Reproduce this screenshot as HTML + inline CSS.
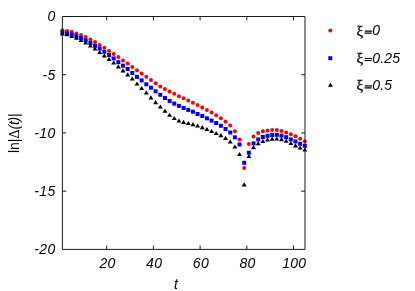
<!DOCTYPE html><html><head><meta charset="utf-8"><style>html,body{margin:0;padding:0;background:#fff;}body{width:415px;height:291px;overflow:hidden;font-family:"Liberation Sans",sans-serif;}svg{display:block}text{font-family:"Liberation Sans",sans-serif;font-size:14px;fill:#000}</style></head><body>
<svg width="415" height="291" viewBox="0 0 415 291">
<rect width="415" height="291" fill="#fff"/>
<g fill="#ff0000">
<circle cx="62.40" cy="30.30" r="2"/>
<circle cx="67.06" cy="30.90" r="2"/>
<circle cx="71.72" cy="31.70" r="2"/>
<circle cx="76.38" cy="33.50" r="2"/>
<circle cx="81.05" cy="35.00" r="2"/>
<circle cx="85.71" cy="37.00" r="2"/>
<circle cx="90.37" cy="39.40" r="2"/>
<circle cx="95.03" cy="42.00" r="2"/>
<circle cx="99.69" cy="45.00" r="2"/>
<circle cx="104.35" cy="47.80" r="2"/>
<circle cx="109.02" cy="51.00" r="2"/>
<circle cx="113.68" cy="54.00" r="2"/>
<circle cx="118.34" cy="57.10" r="2"/>
<circle cx="123.00" cy="60.40" r="2"/>
<circle cx="127.66" cy="63.60" r="2"/>
<circle cx="132.32" cy="66.90" r="2"/>
<circle cx="136.98" cy="70.20" r="2"/>
<circle cx="141.65" cy="73.60" r="2"/>
<circle cx="146.31" cy="76.80" r="2"/>
<circle cx="150.97" cy="79.90" r="2"/>
<circle cx="155.63" cy="83.20" r="2"/>
<circle cx="160.29" cy="86.40" r="2"/>
<circle cx="164.95" cy="89.00" r="2"/>
<circle cx="169.62" cy="91.60" r="2"/>
<circle cx="174.28" cy="93.80" r="2"/>
<circle cx="178.94" cy="96.20" r="2"/>
<circle cx="183.60" cy="98.30" r="2"/>
<circle cx="188.26" cy="100.50" r="2"/>
<circle cx="192.92" cy="102.70" r="2"/>
<circle cx="197.58" cy="105.10" r="2"/>
<circle cx="202.25" cy="107.40" r="2"/>
<circle cx="206.91" cy="110.00" r="2"/>
<circle cx="211.57" cy="112.60" r="2"/>
<circle cx="216.23" cy="115.20" r="2"/>
<circle cx="220.89" cy="118.20" r="2"/>
<circle cx="225.55" cy="121.40" r="2"/>
<circle cx="230.22" cy="125.60" r="2"/>
<circle cx="234.88" cy="131.20" r="2"/>
<circle cx="239.54" cy="139.50" r="2"/>
<circle cx="244.20" cy="168.00" r="2"/>
<circle cx="248.86" cy="144.00" r="2"/>
<circle cx="253.52" cy="136.40" r="2"/>
<circle cx="258.18" cy="132.90" r="2"/>
<circle cx="262.85" cy="131.30" r="2"/>
<circle cx="267.51" cy="130.50" r="2"/>
<circle cx="272.17" cy="130.00" r="2"/>
<circle cx="276.83" cy="130.10" r="2"/>
<circle cx="281.49" cy="130.90" r="2"/>
<circle cx="286.15" cy="132.40" r="2"/>
<circle cx="290.82" cy="134.20" r="2"/>
<circle cx="295.48" cy="136.20" r="2"/>
<circle cx="300.14" cy="138.80" r="2"/>
<circle cx="304.80" cy="141.20" r="2"/>
</g><g fill="#0000ff">
<rect x="60.40" y="30.30" width="4" height="4"/>
<rect x="65.06" y="31.40" width="4" height="4"/>
<rect x="69.72" y="32.40" width="4" height="4"/>
<rect x="74.38" y="34.00" width="4" height="4"/>
<rect x="79.05" y="36.00" width="4" height="4"/>
<rect x="83.71" y="38.40" width="4" height="4"/>
<rect x="88.37" y="41.00" width="4" height="4"/>
<rect x="93.03" y="43.80" width="4" height="4"/>
<rect x="97.69" y="46.60" width="4" height="4"/>
<rect x="102.35" y="49.80" width="4" height="4"/>
<rect x="107.02" y="53.00" width="4" height="4"/>
<rect x="111.68" y="56.40" width="4" height="4"/>
<rect x="116.34" y="60.20" width="4" height="4"/>
<rect x="121.00" y="63.70" width="4" height="4"/>
<rect x="125.66" y="67.00" width="4" height="4"/>
<rect x="130.32" y="71.00" width="4" height="4"/>
<rect x="134.98" y="74.90" width="4" height="4"/>
<rect x="139.65" y="78.40" width="4" height="4"/>
<rect x="144.31" y="82.30" width="4" height="4"/>
<rect x="148.97" y="85.70" width="4" height="4"/>
<rect x="153.63" y="89.30" width="4" height="4"/>
<rect x="158.29" y="92.80" width="4" height="4"/>
<rect x="162.95" y="96.00" width="4" height="4"/>
<rect x="167.62" y="99.00" width="4" height="4"/>
<rect x="172.28" y="101.60" width="4" height="4"/>
<rect x="176.94" y="103.90" width="4" height="4"/>
<rect x="181.60" y="106.00" width="4" height="4"/>
<rect x="186.26" y="107.90" width="4" height="4"/>
<rect x="190.92" y="109.70" width="4" height="4"/>
<rect x="195.58" y="112.00" width="4" height="4"/>
<rect x="200.25" y="114.00" width="4" height="4"/>
<rect x="204.91" y="116.30" width="4" height="4"/>
<rect x="209.57" y="118.60" width="4" height="4"/>
<rect x="214.23" y="121.00" width="4" height="4"/>
<rect x="218.89" y="123.80" width="4" height="4"/>
<rect x="223.55" y="127.00" width="4" height="4"/>
<rect x="228.22" y="130.50" width="4" height="4"/>
<rect x="232.88" y="135.30" width="4" height="4"/>
<rect x="237.54" y="142.50" width="4" height="4"/>
<rect x="242.20" y="160.80" width="4" height="4"/>
<rect x="246.86" y="150.70" width="4" height="4"/>
<rect x="251.52" y="141.40" width="4" height="4"/>
<rect x="256.18" y="137.40" width="4" height="4"/>
<rect x="260.85" y="135.00" width="4" height="4"/>
<rect x="265.51" y="133.80" width="4" height="4"/>
<rect x="270.17" y="133.00" width="4" height="4"/>
<rect x="274.83" y="132.80" width="4" height="4"/>
<rect x="279.49" y="133.60" width="4" height="4"/>
<rect x="284.15" y="135.20" width="4" height="4"/>
<rect x="288.82" y="137.40" width="4" height="4"/>
<rect x="293.48" y="139.40" width="4" height="4"/>
<rect x="298.14" y="141.80" width="4" height="4"/>
<rect x="302.80" y="143.80" width="4" height="4"/>
</g><g fill="#000">
<path d="M59.90 35.40L64.90 35.40L62.40 31.30Z"/>
<path d="M64.56 36.20L69.56 36.20L67.06 32.10Z"/>
<path d="M69.22 38.00L74.22 38.00L71.72 33.90Z"/>
<path d="M73.88 39.80L78.88 39.80L76.38 35.70Z"/>
<path d="M78.55 42.00L83.55 42.00L81.05 37.90Z"/>
<path d="M83.21 44.60L88.21 44.60L85.71 40.50Z"/>
<path d="M87.87 47.60L92.87 47.60L90.37 43.50Z"/>
<path d="M92.53 50.60L97.53 50.60L95.03 46.50Z"/>
<path d="M97.19 54.00L102.19 54.00L99.69 49.90Z"/>
<path d="M101.85 57.40L106.85 57.40L104.35 53.30Z"/>
<path d="M106.52 61.00L111.52 61.00L109.02 56.90Z"/>
<path d="M111.18 64.60L116.18 64.60L113.68 60.50Z"/>
<path d="M115.84 68.40L120.84 68.40L118.34 64.30Z"/>
<path d="M120.50 72.40L125.50 72.40L123.00 68.30Z"/>
<path d="M125.16 76.40L130.16 76.40L127.66 72.30Z"/>
<path d="M129.82 80.60L134.82 80.60L132.32 76.50Z"/>
<path d="M134.48 85.50L139.48 85.50L136.98 81.40Z"/>
<path d="M139.15 90.00L144.15 90.00L141.65 85.90Z"/>
<path d="M143.81 94.60L148.81 94.60L146.31 90.50Z"/>
<path d="M148.47 99.40L153.47 99.40L150.97 95.30Z"/>
<path d="M153.13 104.20L158.13 104.20L155.63 100.10Z"/>
<path d="M157.79 108.60L162.79 108.60L160.29 104.50Z"/>
<path d="M162.45 112.80L167.45 112.80L164.95 108.70Z"/>
<path d="M167.12 116.80L172.12 116.80L169.62 112.70Z"/>
<path d="M171.78 120.10L176.78 120.10L174.28 116.00Z"/>
<path d="M176.44 122.50L181.44 122.50L178.94 118.40Z"/>
<path d="M181.10 123.90L186.10 123.90L183.60 119.80Z"/>
<path d="M185.76 125.00L190.76 125.00L188.26 120.90Z"/>
<path d="M190.42 126.20L195.42 126.20L192.92 122.10Z"/>
<path d="M195.08 127.60L200.08 127.60L197.58 123.50Z"/>
<path d="M199.75 129.20L204.75 129.20L202.25 125.10Z"/>
<path d="M204.41 131.00L209.41 131.00L206.91 126.90Z"/>
<path d="M209.07 133.00L214.07 133.00L211.57 128.90Z"/>
<path d="M213.73 135.00L218.73 135.00L216.23 130.90Z"/>
<path d="M218.39 137.20L223.39 137.20L220.89 133.10Z"/>
<path d="M223.05 139.90L228.05 139.90L225.55 135.80Z"/>
<path d="M227.72 143.50L232.72 143.50L230.22 139.40Z"/>
<path d="M232.38 148.50L237.38 148.50L234.88 144.40Z"/>
<path d="M237.04 156.10L242.04 156.10L239.54 152.00Z"/>
<path d="M241.70 186.40L246.70 186.40L244.20 182.30Z"/>
<path d="M246.36 158.00L251.36 158.00L248.86 153.90Z"/>
<path d="M251.02 149.20L256.02 149.20L253.52 145.10Z"/>
<path d="M255.68 145.20L260.68 145.20L258.18 141.10Z"/>
<path d="M260.35 143.00L265.35 143.00L262.85 138.90Z"/>
<path d="M265.01 141.60L270.01 141.60L267.51 137.50Z"/>
<path d="M269.67 140.80L274.67 140.80L272.17 136.70Z"/>
<path d="M274.33 140.60L279.33 140.60L276.83 136.50Z"/>
<path d="M278.99 141.20L283.99 141.20L281.49 137.10Z"/>
<path d="M283.65 142.80L288.65 142.80L286.15 138.70Z"/>
<path d="M288.32 145.00L293.32 145.00L290.82 140.90Z"/>
<path d="M292.98 147.40L297.98 147.40L295.48 143.30Z"/>
<path d="M297.64 149.60L302.64 149.60L300.14 145.50Z"/>
<path d="M302.30 151.60L307.30 151.60L304.80 147.50Z"/>
</g>
<g stroke="#1a1a1a" stroke-width="1" fill="none">
<path d="M62.4 16.5H305.0V249.4H62.4Z"/>
<path d="M106.7 249.4v-3.8M106.7 16.5v3.8"/>
<path d="M153.4 249.4v-3.8M153.4 16.5v3.8"/>
<path d="M200.1 249.4v-3.8M200.1 16.5v3.8"/>
<path d="M246.8 249.4v-3.8M246.8 16.5v3.8"/>
<path d="M293.5 249.4v-3.8M293.5 16.5v3.8"/>
<path d="M62.4 74.72h3.8M305.0 74.72h-3.8"/>
<path d="M62.4 132.95h3.8M305.0 132.95h-3.8"/>
<path d="M62.4 191.18h3.8M305.0 191.18h-3.8"/>
</g>
<g style="will-change:transform">
<text x="107.5" y="268" text-anchor="middle" font-style="italic" letter-spacing="0.3">20</text>
<text x="154.2" y="268" text-anchor="middle" font-style="italic" letter-spacing="0.3">40</text>
<text x="200.9" y="268" text-anchor="middle" font-style="italic" letter-spacing="0.3">60</text>
<text x="247.6" y="268" text-anchor="middle" font-style="italic" letter-spacing="0.3">80</text>
<text x="294.3" y="268" text-anchor="middle" font-style="italic" letter-spacing="0.3">100</text>
<text x="55.5" y="21" text-anchor="end" font-style="italic" letter-spacing="0.3">0</text>
<text x="55.5" y="80" text-anchor="end" font-style="italic" letter-spacing="0.3">-5</text>
<text x="55.5" y="138" text-anchor="end" font-style="italic" letter-spacing="0.3">-10</text>
<text x="55.5" y="196" text-anchor="end" font-style="italic" letter-spacing="0.3">-15</text>
<text x="55.5" y="254" text-anchor="end" font-style="italic" letter-spacing="0.3">-20</text>
<text x="174.1" y="289" font-style="italic">t</text>
<text transform="translate(18.7,153.1) rotate(-90)" >ln|<tspan style="font-family:'Liberation Serif',serif">Δ</tspan><tspan font-style="italic" letter-spacing="-0.2">(t)</tspan>|</text>
<circle cx="330.3" cy="30.4" r="2" fill="#f00"/>
<rect x="328.3" y="56.2" width="4" height="4" fill="#00f"/>
<path d="M327.9 86.8L332.9 86.8L330.4 82.7Z" fill="#000"/>
<text x="356.5" y="35.7" style="font-family:'Liberation Serif',serif;font-size:15px" stroke="#000" stroke-width="0.3">ξ</text>
<path d="M364.9 31.1h7.2M364.5 33.1h7.2" stroke="#000" stroke-width="1.15"/>
<text x="372.2" y="35.3" font-style="italic" letter-spacing="0.2">0</text>
<text x="356.5" y="63.1" style="font-family:'Liberation Serif',serif;font-size:15px" stroke="#000" stroke-width="0.3">ξ</text>
<path d="M364.9 58.5h7.2M364.5 60.5h7.2" stroke="#000" stroke-width="1.15"/>
<text x="372.2" y="62.7" font-style="italic" letter-spacing="0.2">0.25</text>
<text x="356.5" y="90.4" style="font-family:'Liberation Serif',serif;font-size:15px" stroke="#000" stroke-width="0.3">ξ</text>
<path d="M364.9 85.8h7.2M364.5 87.8h7.2" stroke="#000" stroke-width="1.15"/>
<text x="372.2" y="90.0" font-style="italic" letter-spacing="0.2">0.5</text>
</g></svg></body></html>
